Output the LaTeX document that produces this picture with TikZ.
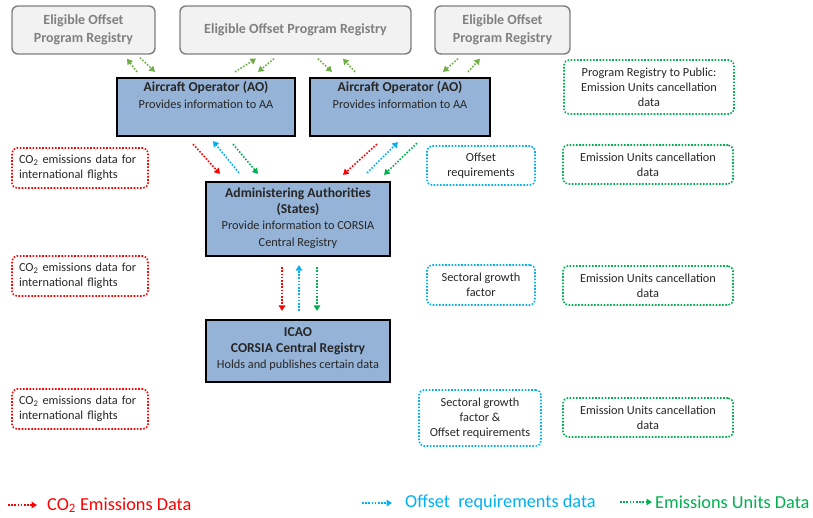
\documentclass[tikz,border=0pt]{standalone}
\usepackage{fontspec}
\setmainfont{Carlito}
\usetikzlibrary{arrows.meta,calc}
\definecolor{boxblue}{HTML}{95B3D7}
\definecolor{gfill}{HTML}{F2F2F2}
\definecolor{gline}{HTML}{7F7F7F}
\definecolor{gtext}{HTML}{808080}
\definecolor{dtext}{HTML}{262626}
\definecolor{cred}{HTML}{FF0000}
\definecolor{cblue}{HTML}{00B0F0}
\definecolor{cgreen}{HTML}{00B050}
\definecolor{colive}{HTML}{70AD47}
\newcommand{\bigb}{\fontsize{13.6}{16.5}\selectfont\bfseries}
\newcommand{\smallt}{\fontsize{12.3}{16.5}\selectfont}
\tikzset{
  graybox/.style={draw=gline,fill=gfill,line width=1.4pt,rounded corners=6pt,text=gtext,font=\fontsize{14}{17.5}\selectfont\bfseries,align=center,inner sep=0pt},
  bluebox/.style={draw=black,fill=boxblue,line width=2.2pt,inner sep=0pt},
  boxtext/.style={text=dtext,align=center,inner sep=0pt,font=\fontsize{12.3}{16.3}\selectfont},
  dotbox/.style={line width=1.6pt,dash pattern=on 1.6pt off 1.6pt,rounded corners=5pt,text=dtext,font=\fontsize{12.3}{15}\selectfont,align=center,inner sep=0pt},
  redbox/.style={dotbox,draw=cred,align=left},
  bluedot/.style={dotbox,draw=cblue},
  greendot/.style={dotbox,draw=cgreen},
  flow/.style={line width=1.6pt,dash pattern=on 1.6pt off 1.6pt,-{Triangle[length=5.5pt,width=6.5pt]}},
  fred/.style={flow,draw=cred},
  fblue/.style={flow,draw=cblue},
  fgreen/.style={flow,draw=cgreen},
  folive/.style={flow,draw=colive},
  leg/.style={anchor=west,inner sep=0pt,font=\fontsize{18.3}{21}\selectfont}
}
\begin{document}
\begin{tikzpicture}[x=1pt,y=-1pt]
\useasboundingbox (0,0) rectangle (813,517);
% gray registries
\node[graybox,minimum width=143pt,minimum height=48pt] (g1) at (83.5,30) {Eligible Offset\\Program Registry};
\node[graybox,minimum width=231pt,minimum height=48pt] (g2) at (295.5,30) {Eligible Offset Program Registry};
\node[graybox,minimum width=135pt,minimum height=48pt] (g3) at (502.5,30) {Eligible Offset\\Program Registry};
% aircraft operators
\node[bluebox,minimum width=178pt,minimum height=58pt] (ao1) at (206,107) {};
\node[boxtext] (ao1t) at ($(ao1.north)+(0,18)$) {{\bigb Aircraft Operator (AO)}\\{\smallt Provides information to AA}};
\node[bluebox,minimum width=180pt,minimum height=58pt] (ao2) at (400,107) {};
\node[boxtext] (ao2t) at ($(ao2.north)+(0,18)$) {{\bigb Aircraft Operator (AO)}\\{\smallt Provides information to AA}};
% AA
\node[bluebox,minimum width=184pt,minimum height=74pt] (aa) at (298,219) {};
\node[boxtext] (aat) at ($(aa.center)+(0,-1)$) {{\bigb Administering Authorities}\\{\bigb (States)}\\{\smallt Provide information to CORSIA}\\{\smallt Central Registry}};
% ICAO
\node[bluebox,minimum width=184pt,minimum height=62pt] (icao) at (298,351) {};
\node[boxtext] (icaot) at ($(icao.center)+(0,-2)$) {{\bigb ICAO}\\{\bigb CORSIA Central Registry}\\{\smallt Holds and publishes certain data}};
% red boxes
\node[redbox,minimum width=136pt,minimum height=40pt,text width=122pt] (r1) at (80,168) {CO\textsubscript{2} emissions data for\\international flights};
\node[redbox,minimum width=136pt,minimum height=40pt,text width=122pt] (r2) at (80,276) {CO\textsubscript{2} emissions data for\\international flights};
\node[redbox,minimum width=136pt,minimum height=40pt,text width=122pt] (r3) at (80,409) {CO\textsubscript{2} emissions data for\\international flights};
% blue boxes
\node[bluedot,minimum width=108pt,minimum height=39pt] (b1) at (481,165.5) {Offset\\requirements};
\node[bluedot,minimum width=108pt,minimum height=40pt] (b2) at (481,285) {Sectoral growth\\factor};
\node[bluedot,minimum width=122pt,minimum height=56pt] (b3) at (480,418) {Sectoral growth\\factor \&\\Offset requirements};
% green boxes
\node[greendot,minimum width=170pt,minimum height=54pt] (e0) at (649,87) {Program Registry to Public:\\Emission Units cancellation\\data};
\node[greendot,minimum width=170pt,minimum height=39pt] (e1) at (648,164.5) {Emission Units cancellation\\data};
\node[greendot,minimum width=170pt,minimum height=39pt] (e2) at (648,285.5) {Emission Units cancellation\\data};
\node[greendot,minimum width=170pt,minimum height=39pt] (e3) at (648,417.5) {Emission Units cancellation\\data};
% registry <-> AO arrows
\draw[folive] ($(ao1.north)+(-69,-5)$) -- ($(g1.south)+(43.5,4)$);
\draw[folive] ($(g1.south)+(56.5,3)$) -- ($(ao1.north)+(-51,-5)$);
\draw[folive] ($(ao1.north)+(29,-5)$) -- ($(g2.south)+(-39.5,4)$);
\draw[folive] ($(g2.south)+(-21.5,4)$) -- ($(ao1.north)+(52,-5)$);
\draw[folive] ($(g2.south)+(22.5,4)$) -- ($(ao2.north)+(-68,-5)$);
\draw[folive] ($(ao2.north)+(-45,-5)$) -- ($(g2.south)+(47.5,4)$);
\draw[folive] ($(g3.south)+(-44.5,4)$) -- ($(ao2.north)+(43,-5)$);
\draw[folive] ($(ao2.north)+(68,-5)$) -- ($(g3.south)+(-22.5,4)$);
% AO <-> AA
\draw[fred] ($(ao1.south)+(-13,7)$) -- ($(aa.north)+(-78,-7)$);
\draw[fblue] ($(aa.north)+(-59,-8)$) -- ($(ao1.south)+(7,4)$);
\draw[fgreen] ($(ao1.south)+(27,7)$) -- ($(aa.north)+(-40,-7)$);
\draw[fred] ($(ao2.south)+(-23,7)$) -- ($(aa.north)+(45,-6)$);
\draw[fblue] ($(aa.north)+(69,-8)$) -- ($(ao2.south)+(-2,5)$);
\draw[fgreen] ($(ao2.south)+(17,6)$) -- ($(aa.north)+(86,-6)$);
% AA <-> ICAO
\draw[fred] ($(aa.south)+(-16,10)$) -- ($(icao.north)+(-16,-8)$);
\draw[fblue] ($(icao.north)+(1,-8)$) -- ($(aa.south)+(1,8)$);
\draw[fgreen] ($(aa.south)+(19,10)$) -- ($(icao.north)+(19,-8)$);
% legend
\coordinate (lr1) at (8,505); \coordinate (lr2) at (37,505);
\coordinate (lb1) at (362,503); \coordinate (lb2) at (392,503);
\coordinate (lg1) at (620,502); \coordinate (lg2) at (652,502);
\draw[fred] (lr1) -- (lr2);
\draw[fblue] (lb1) -- (lb2);
\draw[fgreen] (lg1) -- (lg2);
\node[leg,text=cred] (lrt) at (47,505) {CO\textsubscript{2} Emissions Data};
\node[leg,text=cblue] (lbt) at (405,503) {Offset\ \ requirements data};
\node[leg,text=cgreen] (lgt) at (655,502) {Emissions Units Data};
\end{tikzpicture}
\end{document}
